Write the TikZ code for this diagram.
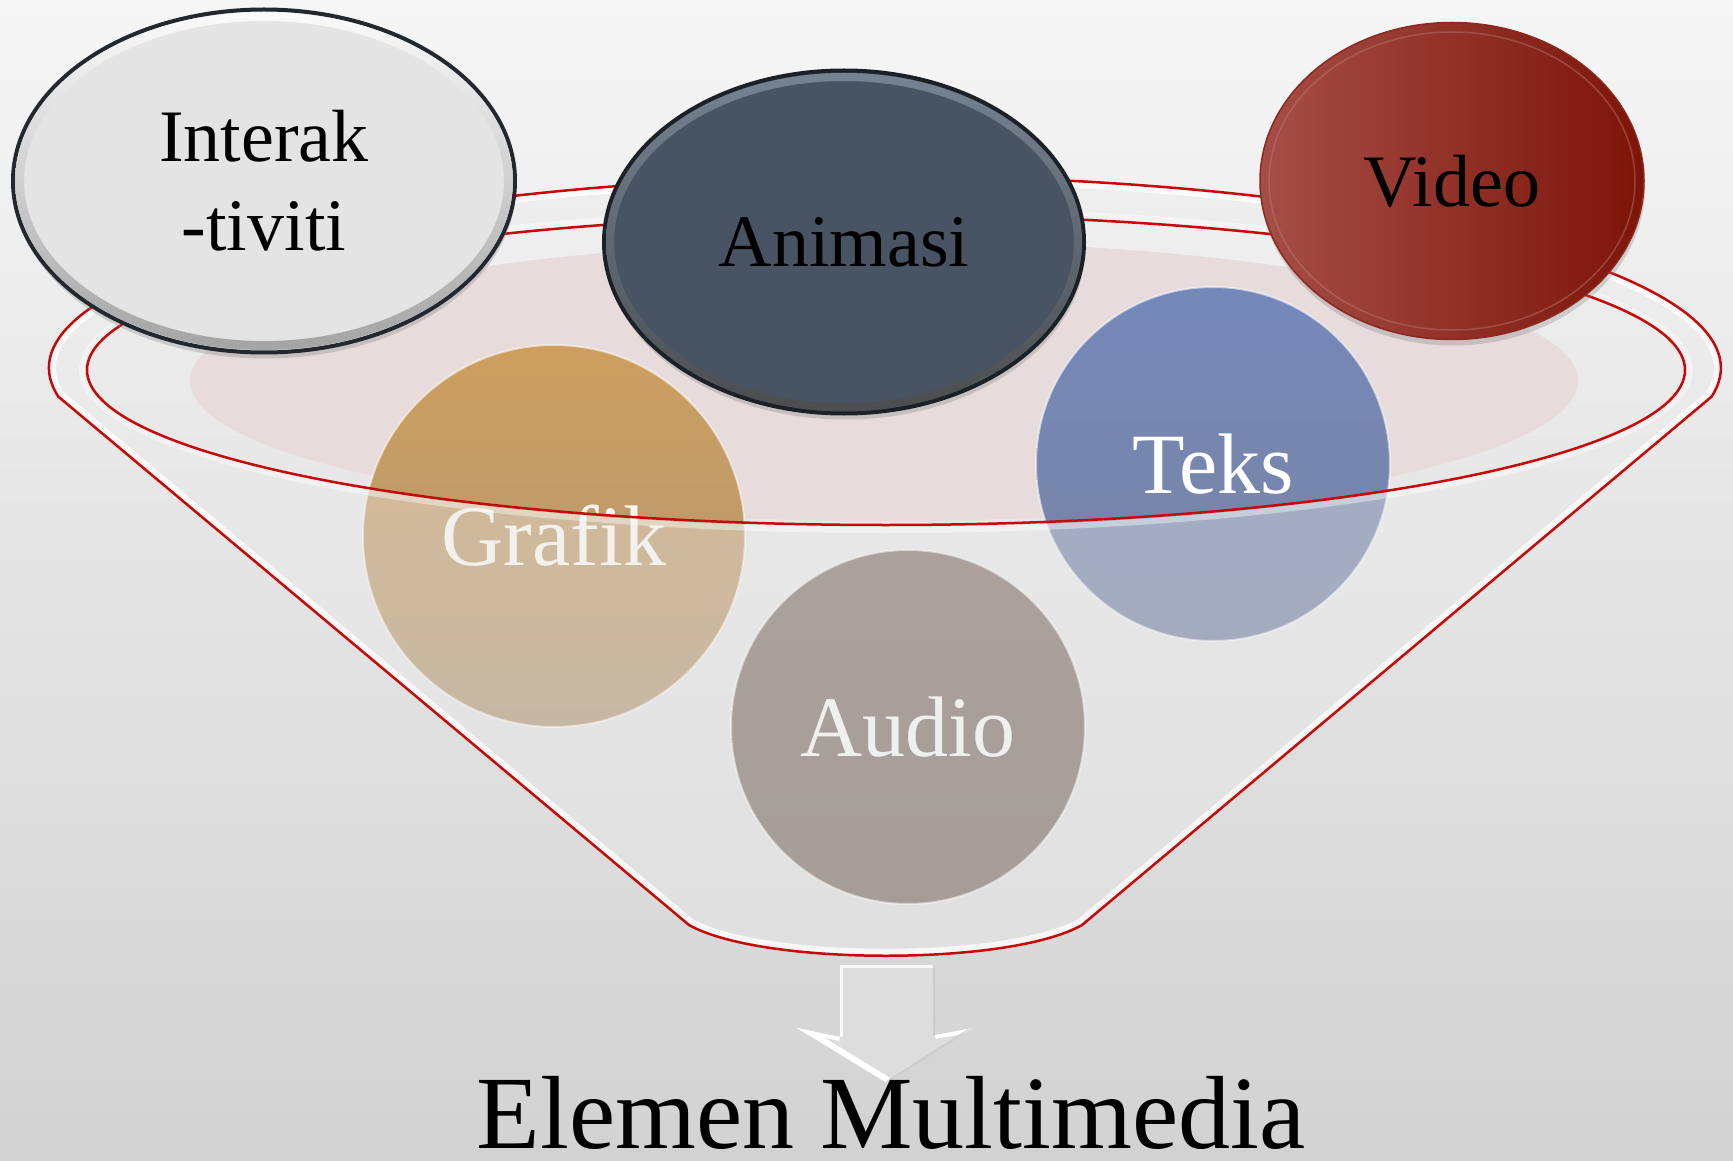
\documentclass[tikz,border=0pt]{standalone}
\usepackage{fontspec}
\setmainfont{Liberation Serif}
\usetikzlibrary{shapes.geometric,shadows}

\definecolor{bgtop}{RGB}{246,246,246}
\definecolor{bgbot}{RGB}{210,210,210}
\definecolor{rimred}{RGB}{200,8,8}
\definecolor{pinkin}{RGB}{231,219,219}
\definecolor{conefilm}{RGB}{236,236,236}
\definecolor{interfill}{RGB}{228,228,228}
\definecolor{interline}{RGB}{35,40,46}
\definecolor{animfill}{RGB}{72,84,99}
\definecolor{animline}{RGB}{28,33,40}
\definecolor{animhi}{RGB}{125,140,156}
\definecolor{vidl}{RGB}{165,78,72}
\definecolor{vidr}{RGB}{125,20,8}
\definecolor{vidline}{RGB}{140,40,30}
\definecolor{teksT}{RGB}{116,136,186}
\definecolor{teksB}{RGB}{122,132,162}
\definecolor{grafT}{RGB}{205,158,95}
\definecolor{grafB}{RGB}{176,152,118}
\definecolor{audT}{RGB}{132,116,108}
\definecolor{audB}{RGB}{124,110,102}
\definecolor{arrowfill}{RGB}{221,221,221}
\definecolor{arrowedge}{RGB}{190,190,190}

\tikzset{
  oval/.style={ellipse, inner sep=0pt, align=center,
    font=\fontsize{74}{89}\selectfont, text=black,
    drop shadow={shadow xshift=1pt, shadow yshift=-6pt, opacity=0.3}},
  ball/.style={circle, inner sep=0pt, minimum size=#1, draw=white,
    draw opacity=0.55, line width=2pt,
    font=\fontsize{86}{96}\selectfont, text=white},
  redline/.style={draw=rimred, line width=2.5pt},
}

\begin{document}
\begin{tikzpicture}[x=1pt,y=-1pt]
\useasboundingbox (0,0) rectangle (1733,1161);
\shade[top color=bgtop, bottom color=bgbot] (0,0) rectangle (1733,1161);

% pink opening of the funnel
\begin{scope}
  \clip (886,370) ellipse [x radius=799, y radius=155];
  \fill[pinkin] (884,381) ellipse [x radius=694, y radius=140];
\end{scope}

% balls inside the funnel
\node[ball=382, top color=grafT, bottom color=grafB, text opacity=0.9] (grafik) at (554,536) {Grafik};
\node[ball=354, top color=teksT, bottom color=teksB] (teks) at (1213,464) {Teks};
\node[ball=354, top color=audT, bottom color=audB, text opacity=0.9] (audio) at (908,727) {Audio};

% funnel front film (cone + rim, minus the opening)
\fill[conefilm, fill opacity=0.38, even odd rule]
  (58.4,396.7) arc[start angle=171.4, end angle=368.6, x radius=836, y radius=192]
  -- (1082,925) .. controls (1010,966) and (762,966) .. (689,925) -- cycle
  (886,370) ellipse [x radius=799, y radius=155];

% white bevel inside the outer contour
\begin{scope}
  \clip (58.4,396.7) arc[start angle=171.4, end angle=368.6, x radius=836, y radius=192]
  -- (1082,925) .. controls (1010,966) and (762,966) .. (689,925) -- cycle;
  \draw[white, line width=14pt, opacity=0.75]
  (58.4,396.7) arc[start angle=171.4, end angle=368.6, x radius=836, y radius=192]
  -- (1082,925) .. controls (1010,966) and (762,966) .. (689,925) -- cycle;
\end{scope}
\draw[white, line width=6pt, opacity=0.4] (886,370) ellipse [x radius=804, y radius=160];

% red outlines
\draw[redline]
  (58.4,396.7) arc[start angle=171.4, end angle=368.6, x radius=836, y radius=192]
  -- (1082,925) .. controls (1010,966) and (762,966) .. (689,925) -- cycle;
\draw[redline] (886,370) ellipse [x radius=799, y radius=155];

% top ovals
\node[oval, minimum width=502, minimum height=343, fill=interfill, draw=interline, line width=4pt] (inter) at (264,181) {Interak\\-tiviti};
\begin{scope}[even odd rule]
  \clip (inter.center) ellipse [x radius=249, y radius=169]
        (inter.center) ellipse [x radius=240, y radius=160];
  \shade[top color=white, middle color=interfill, bottom color=black!40, fill opacity=0.85]
    (inter.center) ellipse [x radius=250, y radius=170];
\end{scope}

\node[oval, minimum width=480, minimum height=343, fill=animfill, draw=animline, line width=4pt] (anim) at (844,242) {Animasi};
\begin{scope}[even odd rule]
  \clip (anim.center) ellipse [x radius=238, y radius=169]
        (anim.center) ellipse [x radius=230, y radius=161];
  \shade[top color=animhi, middle color=animfill, bottom color=black!70, fill opacity=0.85]
    (anim.center) ellipse [x radius=239, y radius=170];
\end{scope}

\node[oval, minimum width=384, minimum height=317, left color=vidl, right color=vidr, draw=vidline, line width=1.5pt] (video) at (1452,181) {Video};
\draw[vidl!70!white, line width=1.5pt, opacity=0.4] (video.center) ellipse [x radius=183, y radius=149];

% arrow below the funnel
\fill[arrowfill] (840,965) -- (935,965) -- (935,1035) -- (973,1028) -- (887,1083) -- (797,1028) -- (840,1037) -- cycle;
\begin{scope}
  \clip (840,965) -- (935,965) -- (935,1035) -- (973,1028) -- (887,1083) -- (797,1028) -- (840,1037) -- cycle;
  \draw[white, line width=12pt] (797,1028) -- (887,1083);
  \draw[white, line width=8pt] (797,1028) -- (840,1037);
  \draw[white, line width=8pt] (935,1035) -- (973,1028);
  \draw[white, line width=6pt, opacity=0.85] (840,1037) -- (840,965) -- (935,965);
  \draw[arrowedge, line width=5pt, opacity=0.6] (935,965) -- (935,1035);
  \draw[arrowedge, line width=4pt, opacity=0.5] (973,1028) -- (887,1083);
\end{scope}

% title
\node[font=\fontsize{104}{110}\selectfont, anchor=base, inner sep=0pt] (title) at (891,1148) {Elemen Multimedia};
\end{tikzpicture}
\end{document}
